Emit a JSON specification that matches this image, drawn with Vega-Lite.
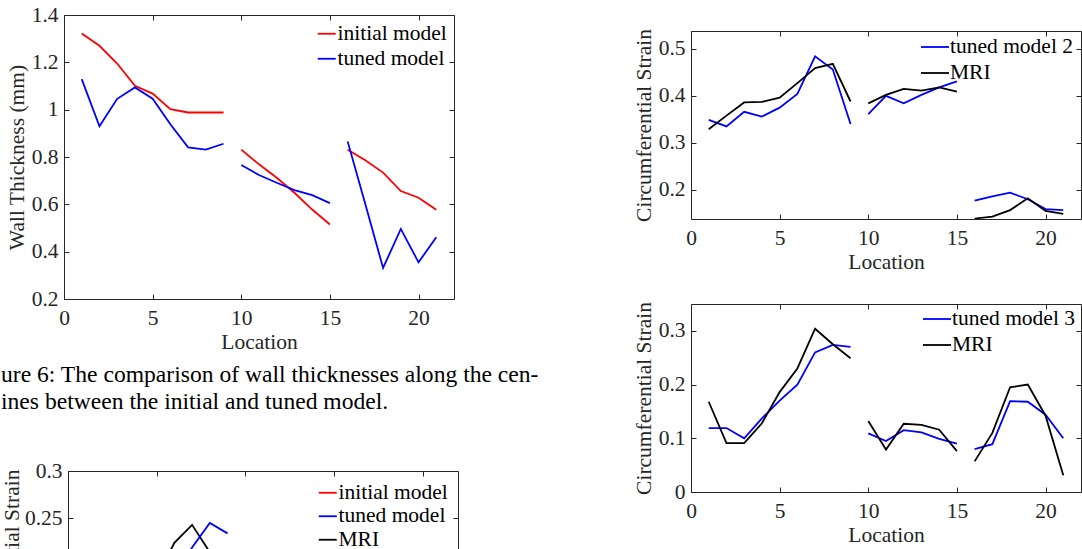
{
  "$schema": "https://vega.github.io/schema/vega-lite/v6.json",
  "padding": {"left": 0, "top": 3, "right": 0, "bottom": 0},
  "background": "white",
  "config": {
    "font": "Liberation Serif",
    "view": {"stroke": "#262626", "strokeWidth": 1},
    "axis": {"domain": false, "grid": false, "ticks": true, "tickSize": -5, "tickColor": "#262626", "tickWidth": 1,
      "labelFont": "Liberation Serif", "labelFontSize": 21.5, "labelColor": "#262626", "labelFlush": false, "labelOverlap": false,
      "titleFont": "Liberation Serif", "titleFontSize": 21.5, "titleFontWeight": "normal", "titleColor": "#262626", "titlePadding": 3},
    "axisX": {"labelPadding": 13},
    "axisY": {"labelPadding": 11},
    "legend": {"labelFont": "Liberation Serif", "labelFontSize": 21.5, "labelColor": "#000000", "symbolType": "stroke", "symbolStrokeWidth": 1.8, "padding": 0, "rowPadding": 2, "labelOffset": 0, "title": null},
    "title": {"font": "Liberation Serif", "fontSize": 23.6, "fontWeight": "normal", "color": "#000000"}
  },
  "datasets": {
    "wall": [
      {"series": "initial model", "seg": 1, "loc": 1, "value": 1.322}, {"series": "initial model", "seg": 1, "loc": 2, "value": 1.270},
      {"series": "initial model", "seg": 1, "loc": 3, "value": 1.195}, {"series": "initial model", "seg": 1, "loc": 4, "value": 1.101},
      {"series": "initial model", "seg": 1, "loc": 5, "value": 1.068}, {"series": "initial model", "seg": 1, "loc": 6, "value": 1.002},
      {"series": "initial model", "seg": 1, "loc": 7, "value": 0.988}, {"series": "initial model", "seg": 1, "loc": 8, "value": 0.988},
      {"series": "initial model", "seg": 1, "loc": 9, "value": 0.988},
      {"series": "initial model", "seg": 2, "loc": 10, "value": 0.831}, {"series": "initial model", "seg": 2, "loc": 11, "value": 0.769},
      {"series": "initial model", "seg": 2, "loc": 12, "value": 0.712}, {"series": "initial model", "seg": 2, "loc": 13, "value": 0.649},
      {"series": "initial model", "seg": 2, "loc": 14, "value": 0.578}, {"series": "initial model", "seg": 2, "loc": 15, "value": 0.515},
      {"series": "initial model", "seg": 3, "loc": 16, "value": 0.831}, {"series": "initial model", "seg": 3, "loc": 17, "value": 0.786},
      {"series": "initial model", "seg": 3, "loc": 18, "value": 0.734}, {"series": "initial model", "seg": 3, "loc": 19, "value": 0.656},
      {"series": "initial model", "seg": 3, "loc": 20, "value": 0.628}, {"series": "initial model", "seg": 3, "loc": 21, "value": 0.577},
      {"series": "tuned model", "seg": 1, "loc": 1, "value": 1.129}, {"series": "tuned model", "seg": 1, "loc": 2, "value": 0.930},
      {"series": "tuned model", "seg": 1, "loc": 3, "value": 1.046}, {"series": "tuned model", "seg": 1, "loc": 4, "value": 1.094},
      {"series": "tuned model", "seg": 1, "loc": 5, "value": 1.046}, {"series": "tuned model", "seg": 1, "loc": 6, "value": 0.938},
      {"series": "tuned model", "seg": 1, "loc": 7, "value": 0.841}, {"series": "tuned model", "seg": 1, "loc": 8, "value": 0.831},
      {"series": "tuned model", "seg": 1, "loc": 9, "value": 0.856},
      {"series": "tuned model", "seg": 2, "loc": 10, "value": 0.766}, {"series": "tuned model", "seg": 2, "loc": 11, "value": 0.724},
      {"series": "tuned model", "seg": 2, "loc": 12, "value": 0.691}, {"series": "tuned model", "seg": 2, "loc": 13, "value": 0.660},
      {"series": "tuned model", "seg": 2, "loc": 14, "value": 0.639}, {"series": "tuned model", "seg": 2, "loc": 15, "value": 0.605},
      {"series": "tuned model", "seg": 3, "loc": 16, "value": 0.866}, {"series": "tuned model", "seg": 3, "loc": 17, "value": 0.600},
      {"series": "tuned model", "seg": 3, "loc": 18, "value": 0.331}, {"series": "tuned model", "seg": 3, "loc": 19, "value": 0.496},
      {"series": "tuned model", "seg": 3, "loc": 20, "value": 0.355}, {"series": "tuned model", "seg": 3, "loc": 21, "value": 0.461}
    ],
    "strain2": [
      {"series": "tuned model 2", "seg": 1, "loc": 1, "value": 0.349}, {"series": "tuned model 2", "seg": 1, "loc": 2, "value": 0.335},
      {"series": "tuned model 2", "seg": 1, "loc": 3, "value": 0.366}, {"series": "tuned model 2", "seg": 1, "loc": 4, "value": 0.356},
      {"series": "tuned model 2", "seg": 1, "loc": 5, "value": 0.375}, {"series": "tuned model 2", "seg": 1, "loc": 6, "value": 0.404},
      {"series": "tuned model 2", "seg": 1, "loc": 7, "value": 0.484}, {"series": "tuned model 2", "seg": 1, "loc": 8, "value": 0.456},
      {"series": "tuned model 2", "seg": 1, "loc": 9, "value": 0.340},
      {"series": "tuned model 2", "seg": 2, "loc": 10, "value": 0.361}, {"series": "tuned model 2", "seg": 2, "loc": 11, "value": 0.400},
      {"series": "tuned model 2", "seg": 2, "loc": 12, "value": 0.384}, {"series": "tuned model 2", "seg": 2, "loc": 13, "value": 0.402},
      {"series": "tuned model 2", "seg": 2, "loc": 14, "value": 0.418}, {"series": "tuned model 2", "seg": 2, "loc": 15, "value": 0.431},
      {"series": "tuned model 2", "seg": 3, "loc": 16, "value": 0.177}, {"series": "tuned model 2", "seg": 3, "loc": 17, "value": 0.186},
      {"series": "tuned model 2", "seg": 3, "loc": 18, "value": 0.194}, {"series": "tuned model 2", "seg": 3, "loc": 19, "value": 0.180},
      {"series": "tuned model 2", "seg": 3, "loc": 20, "value": 0.159}, {"series": "tuned model 2", "seg": 3, "loc": 21, "value": 0.157},
      {"series": "MRI", "seg": 1, "loc": 1, "value": 0.329}, {"series": "MRI", "seg": 1, "loc": 2, "value": 0.358},
      {"series": "MRI", "seg": 1, "loc": 3, "value": 0.386}, {"series": "MRI", "seg": 1, "loc": 4, "value": 0.387},
      {"series": "MRI", "seg": 1, "loc": 5, "value": 0.396}, {"series": "MRI", "seg": 1, "loc": 6, "value": 0.427},
      {"series": "MRI", "seg": 1, "loc": 7, "value": 0.459}, {"series": "MRI", "seg": 1, "loc": 8, "value": 0.468},
      {"series": "MRI", "seg": 1, "loc": 9, "value": 0.388},
      {"series": "MRI", "seg": 2, "loc": 10, "value": 0.384}, {"series": "MRI", "seg": 2, "loc": 11, "value": 0.402},
      {"series": "MRI", "seg": 2, "loc": 12, "value": 0.415}, {"series": "MRI", "seg": 2, "loc": 13, "value": 0.411},
      {"series": "MRI", "seg": 2, "loc": 14, "value": 0.418}, {"series": "MRI", "seg": 2, "loc": 15, "value": 0.409},
      {"series": "MRI", "seg": 3, "loc": 16, "value": 0.139}, {"series": "MRI", "seg": 3, "loc": 17, "value": 0.143},
      {"series": "MRI", "seg": 3, "loc": 18, "value": 0.157}, {"series": "MRI", "seg": 3, "loc": 19, "value": 0.182},
      {"series": "MRI", "seg": 3, "loc": 20, "value": 0.155}, {"series": "MRI", "seg": 3, "loc": 21, "value": 0.149}
    ],
    "strain3": [
      {"series": "tuned model 3", "seg": 1, "loc": 1, "value": 0.119}, {"series": "tuned model 3", "seg": 1, "loc": 2, "value": 0.119},
      {"series": "tuned model 3", "seg": 1, "loc": 3, "value": 0.100}, {"series": "tuned model 3", "seg": 1, "loc": 4, "value": 0.137},
      {"series": "tuned model 3", "seg": 1, "loc": 5, "value": 0.170}, {"series": "tuned model 3", "seg": 1, "loc": 6, "value": 0.200},
      {"series": "tuned model 3", "seg": 1, "loc": 7, "value": 0.260}, {"series": "tuned model 3", "seg": 1, "loc": 8, "value": 0.274},
      {"series": "tuned model 3", "seg": 1, "loc": 9, "value": 0.270},
      {"series": "tuned model 3", "seg": 2, "loc": 10, "value": 0.109}, {"series": "tuned model 3", "seg": 2, "loc": 11, "value": 0.095},
      {"series": "tuned model 3", "seg": 2, "loc": 12, "value": 0.115}, {"series": "tuned model 3", "seg": 2, "loc": 13, "value": 0.111},
      {"series": "tuned model 3", "seg": 2, "loc": 14, "value": 0.099}, {"series": "tuned model 3", "seg": 2, "loc": 15, "value": 0.090},
      {"series": "tuned model 3", "seg": 3, "loc": 16, "value": 0.080}, {"series": "tuned model 3", "seg": 3, "loc": 17, "value": 0.089},
      {"series": "tuned model 3", "seg": 3, "loc": 18, "value": 0.169}, {"series": "tuned model 3", "seg": 3, "loc": 19, "value": 0.168},
      {"series": "tuned model 3", "seg": 3, "loc": 20, "value": 0.144}, {"series": "tuned model 3", "seg": 3, "loc": 21, "value": 0.100},
      {"series": "MRI", "seg": 1, "loc": 1, "value": 0.168}, {"series": "MRI", "seg": 1, "loc": 2, "value": 0.091},
      {"series": "MRI", "seg": 1, "loc": 3, "value": 0.091}, {"series": "MRI", "seg": 1, "loc": 4, "value": 0.128},
      {"series": "MRI", "seg": 1, "loc": 5, "value": 0.186}, {"series": "MRI", "seg": 1, "loc": 6, "value": 0.230},
      {"series": "MRI", "seg": 1, "loc": 7, "value": 0.304}, {"series": "MRI", "seg": 1, "loc": 8, "value": 0.275},
      {"series": "MRI", "seg": 1, "loc": 9, "value": 0.249},
      {"series": "MRI", "seg": 2, "loc": 10, "value": 0.132}, {"series": "MRI", "seg": 2, "loc": 11, "value": 0.079},
      {"series": "MRI", "seg": 2, "loc": 12, "value": 0.127}, {"series": "MRI", "seg": 2, "loc": 13, "value": 0.125},
      {"series": "MRI", "seg": 2, "loc": 14, "value": 0.116}, {"series": "MRI", "seg": 2, "loc": 15, "value": 0.076},
      {"series": "MRI", "seg": 3, "loc": 16, "value": 0.057}, {"series": "MRI", "seg": 3, "loc": 17, "value": 0.110},
      {"series": "MRI", "seg": 3, "loc": 18, "value": 0.195}, {"series": "MRI", "seg": 3, "loc": 19, "value": 0.200},
      {"series": "MRI", "seg": 3, "loc": 20, "value": 0.142}, {"series": "MRI", "seg": 3, "loc": 21, "value": 0.031}
    ],
    "strain1": [
      {"series": "MRI", "seg": 1, "loc": 5, "value": 0.187}, {"series": "MRI", "seg": 1, "loc": 6, "value": 0.224},
      {"series": "MRI", "seg": 1, "loc": 7, "value": 0.243}, {"series": "MRI", "seg": 1, "loc": 8, "value": 0.214},
      {"series": "tuned model", "seg": 1, "loc": 6, "value": 0.19}, {"series": "tuned model", "seg": 1, "loc": 7, "value": 0.219},
      {"series": "tuned model", "seg": 1, "loc": 8, "value": 0.245}, {"series": "tuned model", "seg": 1, "loc": 9, "value": 0.234}
    ]
  },
  "hconcat": [
    {
      "vconcat": [
        {
          "width": 390, "height": 284,
          "data": {"name": "wall"},
          "layer": [
            {"mark": {"type": "line", "strokeWidth": 1.8, "clip": true},
             "encoding": {
               "x": {"field": "loc", "type": "quantitative", "scale": {"domain": [0, 22], "nice": false}, "axis": {"values": [0, 5, 10, 15, 20], "title": "Location"}},
               "y": {"field": "value", "type": "quantitative", "scale": {"domain": [0.2, 1.4], "nice": false, "zero": false}, "axis": {"values": [0.2, 0.4, 0.6, 0.8, 1, 1.2, 1.4], "format": "~g", "title": "Wall Thickness (mm)"}},
               "color": {"field": "series", "type": "nominal", "scale": {"domain": ["initial model", "tuned model"], "range": ["#ff0000", "#0000ff"]}, "legend": {"orient": "none", "legendX": 252, "legendY": 8, "symbolSize": 324}},
               "detail": {"field": "seg"}
             }},
            {"mark": {"type": "point", "opacity": 0},
             "encoding": {
               "x": {"field": "loc", "type": "quantitative", "axis": {"orient": "top", "values": [0, 5, 10, 15, 20], "labels": false, "title": null}},
               "y": {"field": "value", "type": "quantitative", "axis": {"orient": "right", "values": [0.2, 0.4, 0.6, 0.8, 1, 1.2, 1.4], "labels": false, "title": null}}
             }}
          ],
          "resolve": {"axis": {"x": "independent", "y": "independent"}}
        },
        {
          "hconcat": [
            {"width": 1, "height": 1, "data": {"values": [{"k": 1}]}, "mark": {"type": "point", "opacity": 0}, "view": {"stroke": null}},
            {
              "width": 390, "height": 189,
              "title": {"text": ["ure 6: The comparison of wall thicknesses along the cen-", "ines between the initial and tuned model."], "anchor": "start", "frame": "group", "dx": -67, "offset": 46, "lineHeight": 27},
              "data": {"name": "strain1"},
              "layer": [
                {"mark": {"type": "line", "strokeWidth": 1.8, "clip": true},
                 "encoding": {
                   "x": {"field": "loc", "type": "quantitative", "scale": {"domain": [0, 22], "nice": false}, "axis": {"values": [0, 5, 10, 15, 20], "title": "Location"}},
                   "y": {"field": "value", "type": "quantitative", "scale": {"domain": [0.1, 0.3], "nice": false, "zero": false}, "axis": {"values": [0.1, 0.15, 0.2, 0.25, 0.3], "format": "~g", "title": "Circumferential Strain", "titlePadding": 1}},
                   "color": {"field": "series", "type": "nominal", "scale": {"domain": ["initial model", "tuned model", "MRI"], "range": ["#ff0000", "#0000ff", "#000000"]}, "legend": {"orient": "none", "legendX": 249, "legendY": 11, "symbolSize": 324, "rowPadding": 0.5}},
                   "detail": {"field": "seg"}
                 }},
                {"mark": {"type": "point", "opacity": 0},
                 "encoding": {
                   "x": {"field": "loc", "type": "quantitative", "axis": {"orient": "top", "values": [0, 5, 10, 15, 20], "labels": false, "title": null}},
                   "y": {"field": "value", "type": "quantitative", "axis": {"orient": "right", "values": [0.1, 0.15, 0.2, 0.25, 0.3], "labels": false, "title": null}}
                 }}
              ],
              "resolve": {"axis": {"x": "independent", "y": "independent"}}
            }
          ],
          "spacing": 3,
          "bounds": "flush",
          "resolve": {"scale": {"color": "independent"}}
        }
      ],
      "spacing": 172,
      "bounds": "flush",
      "resolve": {"scale": {"color": "independent"}}
    },
    {
      "vconcat": [
        {"width": 390, "height": 1, "data": {"values": [{"k": 1}]}, "mark": {"type": "point", "opacity": 0}, "view": {"stroke": null}},
        {
          "vconcat": [
            {
              "width": 390, "height": 188,
              "data": {"name": "strain2"},
              "layer": [
                {"mark": {"type": "line", "strokeWidth": 1.8, "clip": true},
                 "encoding": {
                   "x": {"field": "loc", "type": "quantitative", "scale": {"domain": [0, 22], "nice": false}, "axis": {"values": [0, 5, 10, 15, 20], "title": "Location"}},
                   "y": {"field": "value", "type": "quantitative", "scale": {"domain": [0.138, 0.538], "nice": false, "zero": false}, "axis": {"values": [0.2, 0.3, 0.4, 0.5], "format": "~g", "title": "Circumferential Strain"}},
                   "color": {"field": "series", "type": "nominal", "scale": {"domain": ["tuned model 2", "MRI"], "range": ["#0000ff", "#000000"]}, "legend": {"orient": "none", "legendX": 229, "legendY": 1, "symbolSize": 784, "labelOffset": 0, "rowPadding": -2}},
                   "detail": {"field": "seg"}
                 }},
                {"mark": {"type": "point", "opacity": 0},
                 "encoding": {
                   "x": {"field": "loc", "type": "quantitative", "axis": {"orient": "top", "values": [0, 5, 10, 15, 20], "labels": false, "title": null}},
                   "y": {"field": "value", "type": "quantitative", "axis": {"orient": "right", "values": [0.2, 0.3, 0.4, 0.5], "labels": false, "title": null}}
                 }}
              ],
              "resolve": {"axis": {"x": "independent", "y": "independent"}}
            },
            {
              "width": 390, "height": 188,
              "data": {"name": "strain3"},
              "layer": [
                {"mark": {"type": "line", "strokeWidth": 1.8, "clip": true},
                 "encoding": {
                   "x": {"field": "loc", "type": "quantitative", "scale": {"domain": [0, 22], "nice": false}, "axis": {"values": [0, 5, 10, 15, 20], "title": "Location"}},
                   "y": {"field": "value", "type": "quantitative", "scale": {"domain": [0, 0.35], "nice": false, "zero": false}, "axis": {"values": [0, 0.1, 0.2, 0.3], "format": "~g", "title": "Circumferential Strain"}},
                   "color": {"field": "series", "type": "nominal", "scale": {"domain": ["tuned model 3", "MRI"], "range": ["#0000ff", "#000000"]}, "legend": {"orient": "none", "legendX": 231, "legendY": 0, "symbolSize": 784, "labelOffset": 0, "rowPadding": -3}},
                   "detail": {"field": "seg"}
                 }},
                {"mark": {"type": "point", "opacity": 0},
                 "encoding": {
                   "x": {"field": "loc", "type": "quantitative", "axis": {"orient": "top", "values": [0, 5, 10, 15, 20], "labels": false, "title": null}},
                   "y": {"field": "value", "type": "quantitative", "axis": {"orient": "right", "values": [0, 0.1, 0.2, 0.3], "labels": false, "title": null}}
                 }}
              ],
              "resolve": {"axis": {"x": "independent", "y": "independent"}}
            }
          ],
          "spacing": 85,
          "bounds": "flush",
          "resolve": {"scale": {"color": "independent"}}
        }
      ],
      "spacing": 15,
      "bounds": "flush",
      "resolve": {"scale": {"color": "independent"}}
    }
  ],
  "spacing": 627,
  "bounds": "flush",
  "resolve": {"scale": {"color": "independent"}}
}
